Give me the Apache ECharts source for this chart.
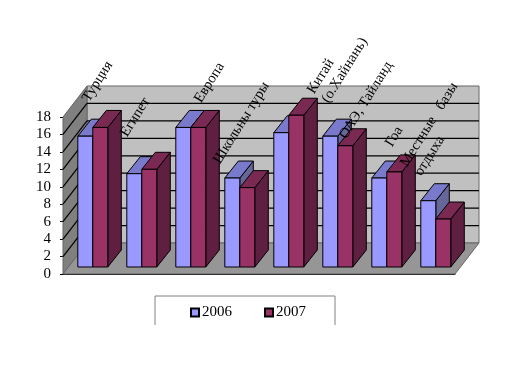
<!DOCTYPE html>
<html>
<head>
<meta charset="utf-8">
<script src="https://cdn.jsdelivr.net/npm/echarts@6/dist/echarts.min.js"></script>
<style>
  html, body { margin: 0; padding: 0; background: #fff; }
  #chart { width: 511px; height: 370px; }
</style>
</head>
<body>
<div id="chart"></div>
<script>
var categories = ['Турция', 'Египет', 'Европа', 'Школьны туры', 'Китай\n(о.Хайнань)', 'ОАЭ, Тайланд', 'Гоа', 'Местные   базы\nотдыха'];
var values2006 = [15, 10.7, 16, 10.2, 15.4, 15, 10.2, 7.6];
var values2007 = [16, 11.2, 16, 9.1, 17.4, 13.9, 10.9, 5.5];
var yTicks = [2, 4, 6, 8, 10, 12, 14, 16];

// pixel offsets, not data: where each rotated label starts, from the foot of its category
var labelOffsets = [[-9, -178], [-20, -143], [5, -177], [-25, -116], [20, -186], [3, -141], [0, -133], [-34, -113]];

var fontName = '"Liberation Serif", "Times New Roman", serif';
var wallDx = 24, wallDy = -31;   // depth of the whole chart box
var barDx = 5.3, barDy = -7;     // bars stand this far back from the front edge
var depthDx = 13.5, depthDy = -17;

var chart = echarts.init(document.getElementById('chart'));

function poly(points, fill, stroke) {
  return {
    type: 'polygon',
    shape: { points: points },
    style: { fill: fill, stroke: stroke, lineWidth: 1 }
  };
}

function seg(x1, y1, x2, y2, color, width) {
  return {
    type: 'line',
    shape: { x1: x1, y1: y1, x2: x2, y2: y2 },
    style: { stroke: color, lineWidth: width }
  };
}

function renderWalls(params, api) {
  var o = api.coord([0, 0]);
  var top = api.coord([0, 18])[1];
  var band = api.size([1, 0])[0];
  var left = o[0] - band / 2;
  var right = left + band * categories.length;
  var bottom = o[1];
  var kids = [
    poly([[left + wallDx, top + wallDy], [right + wallDx, top + wallDy], [right + wallDx, bottom + wallDy], [left + wallDx, bottom + wallDy]], '#c0c0c0', '#666666'),
    poly([[left, bottom], [left + wallDx, bottom + wallDy], [left + wallDx, top + wallDy], [left, top]], '#808080', '#666666'),
    poly([[left, bottom], [right, bottom], [right + wallDx, bottom + wallDy], [left + wallDx, bottom + wallDy]], '#969696', '#666666')
  ];
  yTicks.forEach(function (t) {
    var y = api.coord([0, t])[1];
    kids.push(seg(left, y, left + wallDx, y + wallDy, '#000000', 1.2));
    kids.push(seg(left + wallDx, y + wallDy, right + wallDx, y + wallDy, '#000000', 1.2));
  });
  return { type: 'group', children: kids };
}

function makeBarRenderer(slot, front, topColor, sideColor) {
  return function (params, api) {
    var foot = api.coord([api.value(0), 0]);
    var head = api.coord([api.value(0), api.value(1)]);
    var w = api.size([1, 0])[0] * 0.306;
    var x0 = foot[0] + barDx + (slot - 1) * w;
    var x1 = x0 + w;
    var yb = foot[1] + barDy;
    var yt = head[1] + barDy;
    return {
      type: 'group',
      children: [
        poly([[x1, yb], [x1 + depthDx, yb + depthDy], [x1 + depthDx, yt + depthDy], [x1, yt]], sideColor, '#000000'),
        poly([[x0, yt], [x1, yt], [x1 + depthDx, yt + depthDy], [x0 + depthDx, yt + depthDy]], topColor, '#000000'),
        poly([[x0, yb], [x1, yb], [x1, yt], [x0, yt]], front, '#000000')
      ]
    };
  };
}

function renderLabels(params, api) {
  var i = api.value(0);
  var foot = api.coord([i, 0]);
  var off = labelOffsets[i];
  return {
    type: 'text',
    x: foot[0] + off[0],
    y: foot[1] + off[1],
    rotation: 58 * Math.PI / 180,
    style: {
      text: categories[i],
      font: '14.5px ' + fontName,
      fill: '#000000',
      textAlign: 'left',
      textVerticalAlign: 'top',
      lineHeight: 17
    }
  };
}

var option = {
  animation: false,
  backgroundColor: '#ffffff',
  legend: {
    data: ['2006', '2007'],
    left: 185,
    top: 300,
    itemWidth: 8,
    itemHeight: 8,
    itemGap: 32,
    icon: 'rect',
    textStyle: { fontFamily: fontName, fontSize: 15, color: '#000000', padding: [0, 0, 0, -2] }
  },
  grid: { left: 63, top: 117, width: 392, height: 157 },
  xAxis: {
    type: 'category',
    data: categories,
    axisLabel: { show: false },
    axisTick: { show: false },
    axisLine: { lineStyle: { color: '#000000', width: 1 } }
  },
  yAxis: {
    type: 'value',
    min: 0,
    max: 18,
    interval: 2,
    splitLine: { show: false },
    axisLine: { show: true, lineStyle: { color: '#444444' } },
    axisTick: { show: true, length: 3, lineStyle: { color: '#000000' } },
    axisLabel: { margin: 12, fontFamily: fontName, fontSize: 15, color: '#000000' }
  },
  series: [
    { type: 'custom', name: 'walls', data: [[0]], renderItem: renderWalls, silent: true, z: 1 },
    {
      type: 'custom', name: '2006', z: 2,
      itemStyle: { color: '#9999ff', borderColor: '#000000', borderWidth: 1 },
      data: values2006.map(function (v, i) { return [i, v]; }),
      encode: { x: 0, y: 1 },
      renderItem: makeBarRenderer(0, '#9999ff', '#7a7acc', '#666699')
    },
    {
      type: 'custom', name: '2007', z: 3,
      itemStyle: { color: '#993366', borderColor: '#000000', borderWidth: 1 },
      data: values2007.map(function (v, i) { return [i, v]; }),
      encode: { x: 0, y: 1 },
      renderItem: makeBarRenderer(1, '#993366', '#7a2952', '#5f1f40')
    },
    {
      type: 'custom', name: 'labels', z: 4, silent: true,
      data: categories.map(function (c, i) { return [i]; }),
      renderItem: renderLabels
    }
  ],
  graphic: [{
    type: 'polyline',
    shape: { points: [[155, 325], [155, 296], [335, 296], [335, 325]] },
    style: { fill: null, stroke: '#808080', lineWidth: 1 }
  }]
};

chart.setOption(option);
</script>
</body>
</html>
